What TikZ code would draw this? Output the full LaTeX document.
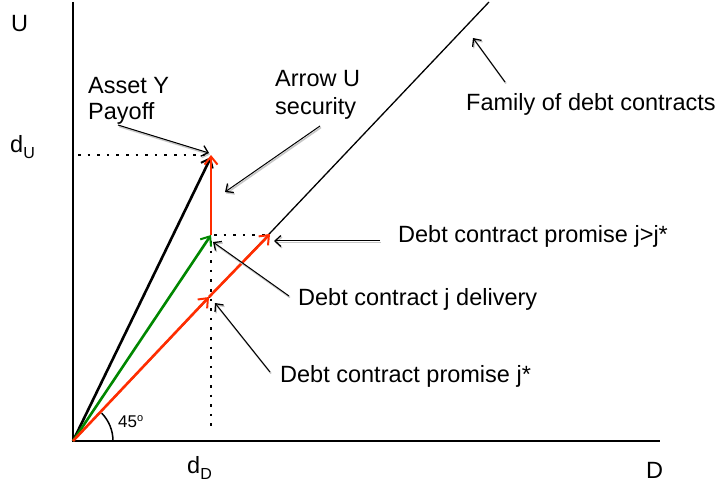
\documentclass[tikz,border=0pt]{standalone}
\usepackage{fontspec}
\setmainfont{Liberation Sans}
\usetikzlibrary{arrows.meta}
\definecolor{myred}{RGB}{255,45,0}
\definecolor{mygreen}{RGB}{0,135,0}
\begin{document}
\begin{tikzpicture}[x=1pt,y=-1pt,
  axis/.style={line width=2pt},
  vec/.style={line width=2.6pt, -{Straight Barb[length=8pt,width=13pt,line width=2pt]}},
  ptr/.style={line width=1pt, -{Straight Barb[length=6pt,width=11pt,line width=1.3pt]},
    preaction={draw, black!22, line width=1.6pt, transform canvas={shift={(1pt,-1.5pt)}}}},
  dots/.style={line width=2.6pt, dash pattern=on 2.6pt off 7pt},
  lbl/.style={font=\fontsize{23.5}{26}\selectfont, inner sep=0pt, anchor=base west},
  small/.style={font=\fontsize{17}{20}\selectfont, inner sep=0pt, anchor=base west}]
\useasboundingbox (0,0) rectangle (721,489);
% key points
\coordinate (O) at (73,441);
\coordinate (Ytop) at (73,2);
\coordinate (Xend) at (660,441);
\coordinate (F) at (489,2);
\coordinate (Y) at (211,155);
\coordinate (G) at (211,235);
\coordinate (Jstar) at (209,297);
\coordinate (J) at (270,234);
% axes
\draw[axis] (Ytop) -- (O) -- (Xend);
% dotted guides
\draw[dots] ([xshift=5pt]O |- Y) -- ([xshift=-6pt]Y);
\draw[dots] ([xshift=3pt]G) -- ([xshift=-3pt]G -| J);
\draw[dots] ([yshift=-6pt]G) -- ([yshift=8pt]G |- O);
% family of debt contracts
\draw[line width=1.3pt] (O) -- (F);
% vectors
\draw[vec] (O) -- ([yshift=-2pt]Y);
\draw[vec, mygreen] (O) -- (G);
\draw[vec, myred] (G) -- (Y);
\draw[vec, myred] (O) -- (Jstar);
\draw[vec, myred] (Jstar) -- (J);
% 45 degree arc
\draw[line width=1.5pt] ([xshift=40pt]O) arc[start angle=0, end angle=44, radius=40pt];
\node[small] (deg) at (118,428) {45\raisebox{6pt}{\fontsize{11}{11}\selectfont o}};
% axis labels
\node[lbl] (lU) at (11,32) {U};
\node[lbl] (ldU) at (10,153) {d\raisebox{-6pt}{\fontsize{16}{16}\selectfont U}};
\node[lbl] (ldD) at (187,473) {d\raisebox{-6pt}{\fontsize{16}{16}\selectfont D}};
\node[lbl] (lD) at (646,478) {D};
% annotations
\node[lbl] (asset1) at (88,94) {Asset Y};
\node[lbl] (asset2) at (88,120) {Payoff};
\node[lbl] (arrowU1) at (275,87) {Arrow U};
\node[lbl] (arrowU2) at (275,115) {security};
\node[lbl] (family) at (466,111) {Family of debt contracts};
\node[lbl] (promJ) at (398,243) {Debt contract promise j>j*};
\node[lbl] (deliv) at (298,306) {Debt contract j delivery};
\node[lbl] (promJs) at (280,382) {Debt contract promise j*};
% pointer start points
\coordinate (pA) at (118,125);
\coordinate (pU) at (320,126);
\coordinate (pF) at (505,82);
\coordinate (pJ) at (380,241);
\coordinate (pD) at (289,296);
\coordinate (pS) at (270,372);
% pointers
\draw[ptr] (pA) -- (209,153);
\draw[ptr] (pU) -- (225,192);
\draw[ptr] (pF) -- (473,38);
\draw[ptr] (pJ) -- (274,241);
\draw[ptr] (pD) -- (213,242);
\draw[ptr] (pS) -- (215,303);
\end{tikzpicture}
\end{document}
